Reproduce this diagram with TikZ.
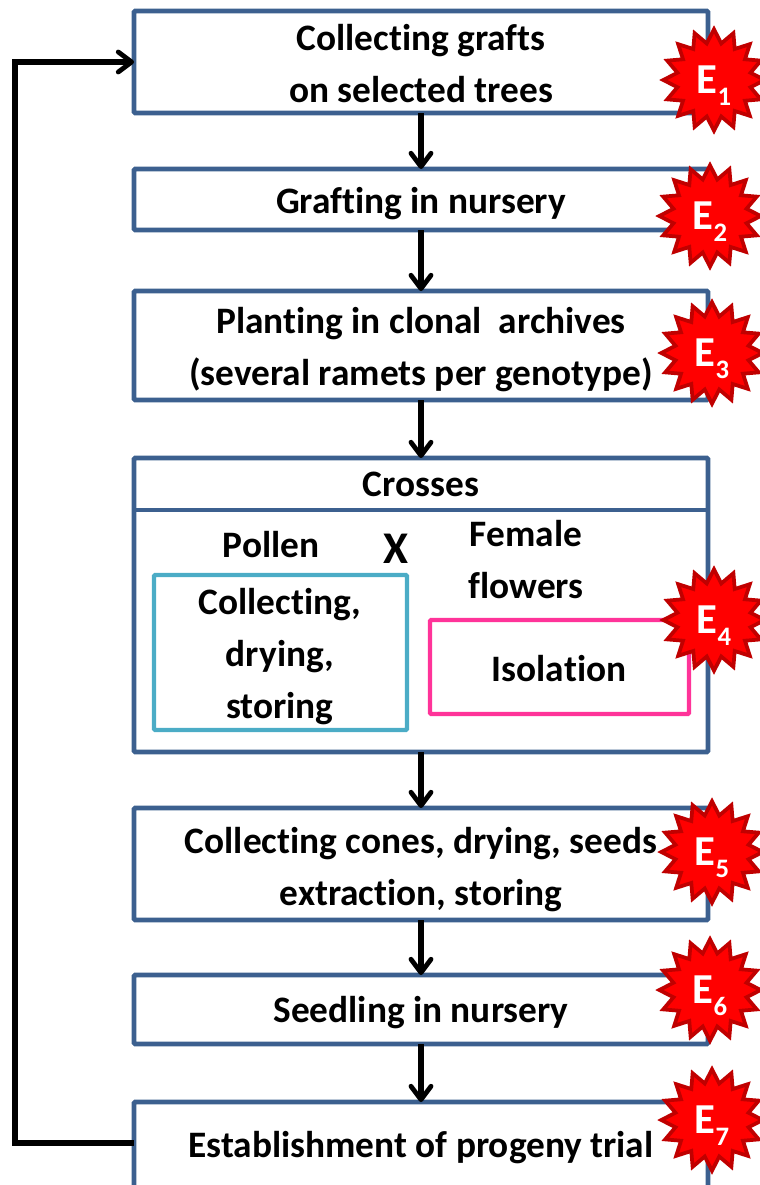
\documentclass[tikz,border=0pt]{standalone}
\usepackage{fontspec}
\setmainfont[Ligatures=NoCommon]{Carlito}
\usetikzlibrary{shapes.geometric,arrows.meta}
\definecolor{boxblue}{RGB}{60,96,143}
\definecolor{pollenblue}{RGB}{75,172,198}
\definecolor{femalepink}{RGB}{255,51,153}
\definecolor{stardark}{RGB}{192,0,0}
\tikzset{
 x=0.75pt,y=-0.75pt,
 every node/.style={font=\fontsize{28}{39}\selectfont\bfseries,align=center,inner sep=0pt,outer sep=0pt,text=black},
 stagebox/.style={draw=boxblue,line width=3.6pt,rounded corners=1pt,minimum width=430.5pt,anchor=north west},
 innerbox/.style={line width=3.3pt,rounded corners=1pt,anchor=north west},
 flow/.style={line width=4.2pt,-{Straight Barb[round,length=10pt,width=15pt,line width=3.6pt]}},
 burst/.style={star,star points=16,star point ratio=1.36,minimum size=76pt,fill=red,draw=stardark,line width=2.8pt,text=white}
}
\newcommand{\stg}[1]{\smash{\raisebox{-10pt}{\fontsize{32}{32}\selectfont E\raisebox{-9pt}{\fontsize{20}{20}\selectfont #1}}}}
\begin{document}
\begin{tikzpicture}
\useasboundingbox (0,0) rectangle (760,1185);
\clip (0,0) rectangle (760,1185);
\node[stagebox,minimum height=76.5pt] (b1) at (134,11) {};
\node[stagebox,minimum height=45.75pt] (b2) at (134,169) {};
\node[stagebox,minimum height=81.75pt] (b3) at (134,291) {};
\node[stagebox,minimum height=220.5pt] (b4) at (134,458) {};
\node[stagebox,minimum height=84pt] (b5) at (134,808) {};
\node[stagebox,minimum height=51.75pt] (b6) at (134,975) {};
\node[stagebox,minimum height=80pt] (b7) at (134,1102) {};
\coordinate (divl) at (134,510);
\coordinate (divr) at (708,510);
\draw[draw=boxblue,line width=3.6pt] (divl) -- (divr);
\node[innerbox,draw=pollenblue,minimum width=189.75pt,minimum height=116.25pt] (pol) at (154,575) {};
\node[innerbox,draw=femalepink,minimum width=194.25pt,minimum height=70.5pt] (fem) at (430,620) {};
\node (t1) at (421,64) {Collecting grafts\\on selected trees};
\node (t2) at (421,204) {Grafting in nursery};
\node (t3) at (421,349.5) {Planting in clonal\ \ archives\\(several ramets per genotype)};
\node (t4) at (421,484) {Crosses};
\node (t41) at (271,545) {Pollen};
\node[font=\fontsize{34}{34}\selectfont\bfseries] (tx) at (396,549) {X};
\node (t42) at (526,560) {Female\\flowers};
\node (t43) at (280,657) {Collecting,\\drying,\\storing};
\node (t44) at (559,669) {Isolation};
\node (t5) at (421,869.5) {Collecting cones, drying, seeds\\extraction, storing};
\node (t6) at (421,1013) {Seedling in nursery};
\node (t7) at (421,1148) {Establishment of progeny trial};
\draw[flow] (b1.south) -- (b2.north);
\draw[flow] (b2.south) -- (b3.north);
\draw[flow] (b3.south) -- (b4.north);
\draw[flow] (b4.south) -- (b5.north);
\draw[flow] (b5.south) -- (b6.north);
\draw[flow] (b6.south) -- (b7.north);
\coordinate (c1) at (15,1143);
\coordinate (c2) at (15,62);
\coordinate (w7) at (134,1143);
\coordinate (w1) at (134,62);
\draw[flow] (w7) -- (c1) -- (c2) -- (w1);
\node[burst] (e1) at (714,80) {\stg{1}};
\node[burst] (e2) at (710,216) {\stg{2}};
\node[burst] (e3) at (712,353) {\stg{3}};
\node[burst] (e4) at (714,620) {\stg{4}};
\node[burst] (e5) at (712,852) {\stg{5}};
\node[burst] (e6) at (710,990) {\stg{6}};
\node[burst] (e7) at (712,1120) {\stg{7}};
\end{tikzpicture}
\end{document}
